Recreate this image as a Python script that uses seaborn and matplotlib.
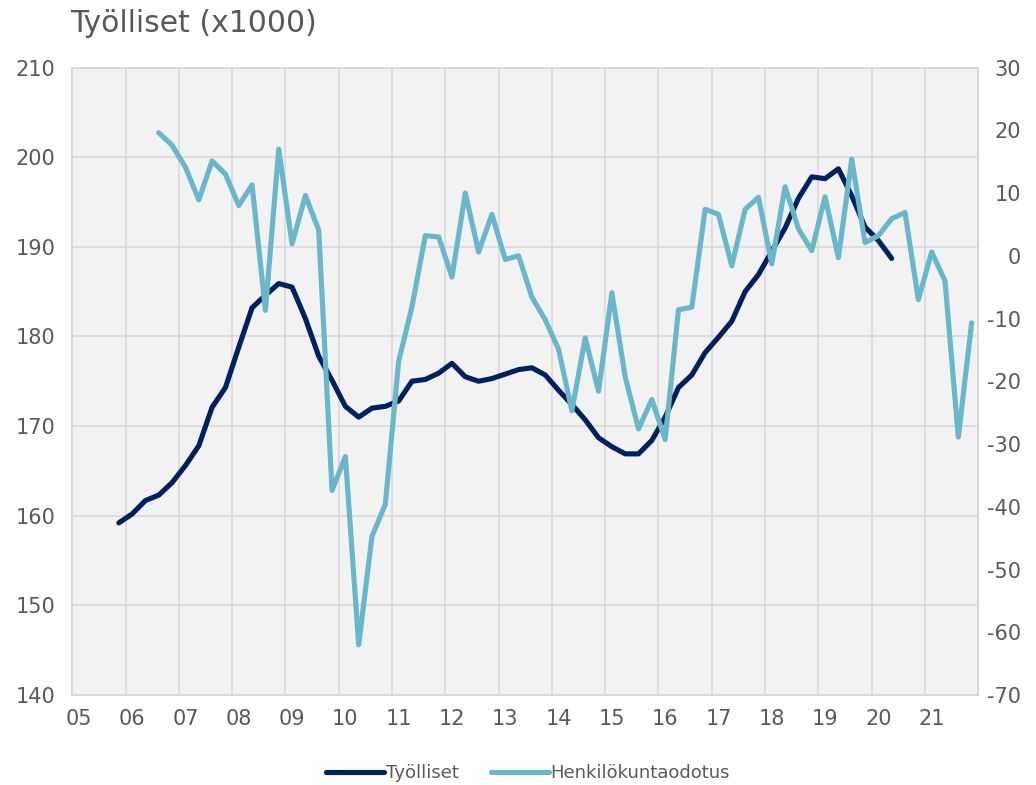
import matplotlib
matplotlib.use("Agg")
import matplotlib.pyplot as plt
from matplotlib.ticker import FixedLocator
import seaborn as sns
import pandas as pd
import numpy as np

# ---- data ----
year_labels = ["05", "06", "07", "08", "09", "10", "11", "12", "13",
               "14", "15", "16", "17", "18", "19", "20", "21"]
axis_start, axis_end = "2005Q1", "2021Q4"

tyolliset_start = "2005Q4"
tyolliset = [159.2, 160.2, 161.7, 162.3, 163.7, 165.6, 167.8, 172.1, 174.3, 178.8,
             183.2, 184.6, 185.9, 185.5, 182.0, 177.8, 175.1, 172.2, 171.0, 172.0,
             172.2, 172.8, 175.0, 175.2, 175.9, 177.0, 175.5, 175.0, 175.3, 175.8,
             176.3, 176.5, 175.7, 174.0, 172.4, 170.7, 168.7, 167.7, 166.9, 166.9,
             168.4, 171.0, 174.3, 175.7, 178.2, 179.9, 181.7, 185.0, 186.9, 189.5,
             192.1, 195.4, 197.8, 197.6, 198.7, 195.7, 192.2, 190.7, 188.7]

henk_start = "2006Q3"
henkilokunta = [19.6, 17.6, 14.1, 8.9, 15.1, 13.0, 8.0, 11.3, -8.7, 17.0,
                1.9, 9.6, 4.1, -37.4, -32.0, -62.0, -44.7, -39.6, -16.8, -8.1,
                3.2, 3.0, -3.4, 10.0, 0.6, 6.6, -0.6, 0.0, -6.6, -10.2,
                -14.9, -24.7, -13.1, -21.6, -5.9, -19.3, -27.6, -22.9, -29.3, -8.6,
                -8.2, 7.4, 6.6, -1.6, 7.4, 9.3, -1.3, 11.0, 4.3, 0.8,
                9.4, -0.3, 15.4, 2.1, 3.2, 5.9, 6.9, -7.0, 0.6, -4.0,
                -28.9, -10.7]

left_ticks = [140, 150, 160, 170, 180, 190, 200, 210]
right_ticks = [-70, -60, -50, -40, -30, -20, -10, 0, 10, 20, 30]

# ---- build frames ----
quarters = pd.period_range(axis_start, axis_end, freq="Q")
qpos = {str(q): i for i, q in enumerate(quarters)}

def frame(start, vals):
    s = qpos[start]
    return pd.DataFrame({"x": np.arange(s, s + len(vals)), "y": vals})

df1 = frame(tyolliset_start, tyolliset)
df2 = frame(henk_start, henkilokunta)

# ---- style ----
sns.set_theme(style="white")
plt.rcParams["font.family"] = ["DejaVu Sans"]
plt.rcParams["axes.unicode_minus"] = False
txt = "#595959"
grid = "#D9D9D9"
dark = "#002060"
light = "#6AB6CB"

fig = plt.figure(figsize=(10.36, 7.85), dpi=100)
ax = fig.add_axes([72.2 / 1036, 1 - 695 / 785, (978.3 - 72.2) / 1036, (695 - 67.5) / 785])
ax.set_facecolor("#F2F2F2")

sns.lineplot(data=df1, x="x", y="y", ax=ax, color=dark, linewidth=3.7,
             solid_capstyle="round", solid_joinstyle="round", label="Työlliset", legend=False)
ax2 = ax.twinx()
sns.lineplot(data=df2, x="x", y="y", ax=ax2, color=light, linewidth=3.7,
             solid_capstyle="round", solid_joinstyle="round", label="Henkilökuntaodotus", legend=False)

n = len(quarters)
ax.set_xlim(-0.5, n - 0.5)
ax.set_ylim(left_ticks[0], left_ticks[-1])
ax2.set_ylim(right_ticks[0], right_ticks[-1])

ax.set_yticks(left_ticks)
ax2.set_yticks(right_ticks)
ax.set_xticks(np.arange(0, n, 4))
ax.set_xticklabels(year_labels)
ax.xaxis.set_minor_locator(FixedLocator(np.arange(-0.5, n, 4)))

ax.grid(False)
ax2.grid(False)
ax.yaxis.grid(True, color=grid, linewidth=1.2)
ax.xaxis.grid(True, which="minor", color=grid, linewidth=1.2)
ax.set_axisbelow(True)

ax.tick_params(axis="both", which="both", length=0, colors=txt, labelsize=15)
ax.tick_params(axis="y", pad=12)
ax.tick_params(axis="x", pad=10)
ax2.tick_params(axis="y", length=0, colors=txt, labelsize=15, pad=31)
for lab in ax2.get_yticklabels():
    lab.set_horizontalalignment("right")

for a in (ax, ax2):
    for sp in a.spines.values():
        sp.set_color(grid)
        sp.set_linewidth(1.2)
ax.set_xlabel("")
ax.set_ylabel("")
ax2.set_ylabel("")

fig.text(70 / 1036, 1 - 24 / 785, "Työlliset (x1000)", fontsize=21.5, color=txt,
         ha="left", va="center")

h1, l1 = ax.get_legend_handles_labels()
h2, l2 = ax2.get_legend_handles_labels()
fig.legend(h1 + h2, l1 + l2, loc="center", bbox_to_anchor=(528 / 1036, 1 - 773 / 785),
           ncol=2, frameon=False, fontsize=13, labelcolor=txt, handlelength=3.2,
           handletextpad=0.1, columnspacing=1.8)

fig.savefig("out.png", dpi=100)
